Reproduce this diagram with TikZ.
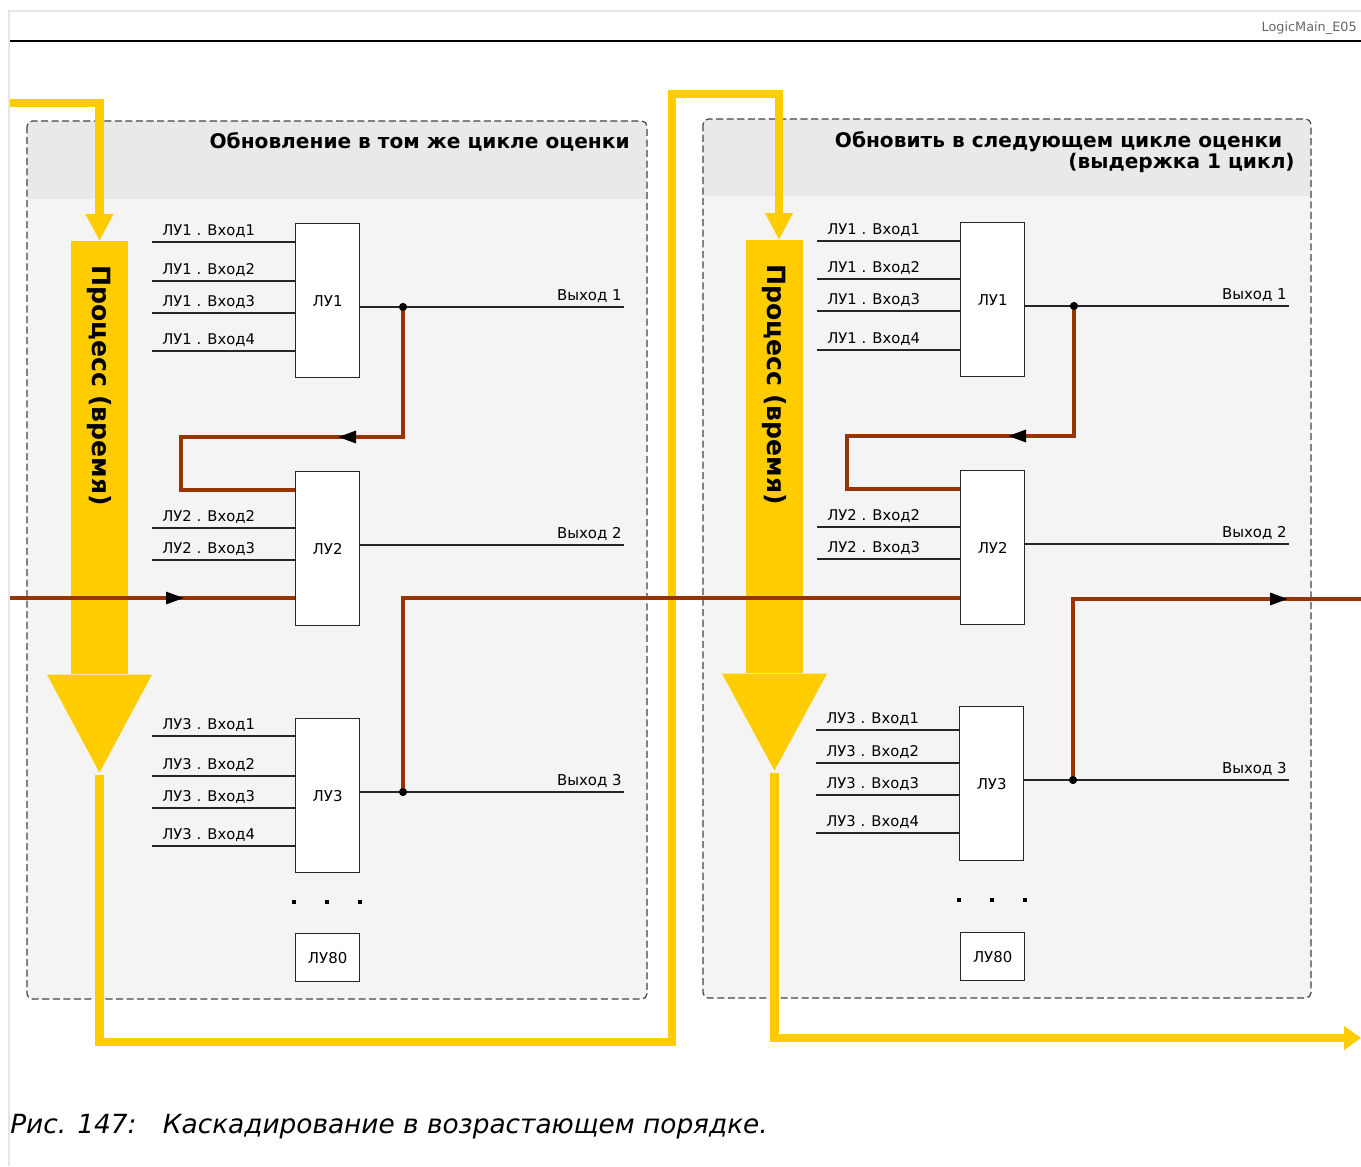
\documentclass[tikz,border=0pt]{standalone}
\usepackage{fontspec}
\setmainfont{DejaVu Sans}
\usetikzlibrary{arrows.meta,positioning,calc}
\definecolor{cFeed}{HTML}{993300}
\definecolor{cProc}{HTML}{FFCC00}
\definecolor{cHead}{HTML}{E9E9E9}
\definecolor{cBody}{HTML}{F4F4F4}
\definecolor{cFrame}{HTML}{E6E6E6}
\definecolor{cEdge}{HTML}{444444}
\tikzset{
  lu/.style={draw=black!85, fill=white, line width=0.75pt, anchor=north west,
             minimum width=1.28cm, minimum height=3.08cm, inner sep=0pt,
             font=\fontsize{8.5}{10}\selectfont},
  lulast/.style={lu, minimum height=0.96cm},
  panel/.style={draw=cEdge, dashed, dash pattern=on 4pt off 2pt, line width=0.7pt,
                rounded corners=3pt},
  ptitle/.style={anchor=base east, align=right, inner sep=0pt,
                 font=\fontsize{11.45}{12}\selectfont\bfseries},
  wire/.style={draw=black!85, line width=0.8pt},
  pin/.style={anchor=base west, inner sep=0pt, font=\fontsize{8.4}{10}\selectfont},
  outl/.style={anchor=base east, inner sep=0pt, font=\fontsize{8.5}{10}\selectfont},
  feed/.style={draw=cFeed, line width=1.8pt},
  feedtip/.style={-{Triangle[length=0.36cm, width=0.24cm, color=black]}},
  proc/.style={draw=cProc, line width=4.6pt},
  procbar/.style={fill=cProc, rotate=-90, anchor=west, text width=7.7cm,
                  inner xsep=0.48cm, minimum height=1.14cm, align=left,
                  font=\fontsize{14.3}{16}\selectfont\bfseries},
  joint/.style={circle, fill=black, inner sep=0pt, minimum size=4.5pt},
}

\begin{document}
\begin{tikzpicture}[x=0.02cm, y=-0.02cm]
  \useasboundingbox (0,0) rectangle (1361,1166);

  % page frame and header rule
  \draw[cFrame, line width=1pt] (1361,11) -- (9,11) -- (9,1166);
  \draw[line width=1.2pt] (10,41) -- (1361,41);
  \node[anchor=base east, inner sep=0pt, text=black!60,
        font=\fontsize{7.3}{8}\selectfont] (tag) at (1357,32) {LogicMain\_E05};

  % panels
  \begin{scope}
    \clip[rounded corners=3pt] (27,121) rectangle (647,999);
    \fill[cBody] (27,121) rectangle (647,999);
    \fill[cHead] (27,121) rectangle (647,199);
  \end{scope}
  \draw[panel] (27,121) rectangle (647,999);
  \node[ptitle] (tl) at (630,148) {Обновление в том же цикле оценки};

  \begin{scope}
    \clip[rounded corners=3pt] (703,119) rectangle (1311,998);
    \fill[cBody] (703,119) rectangle (1311,998);
    \fill[cHead] (703,119) rectangle (1311,196);
  \end{scope}
  \draw[panel] (703,119) rectangle (1311,998);
  \node[ptitle, anchor=north east] (tr) at (1295,131)
    {Обновить в следующем цикле оценки\kern7pt\\(выдержка 1 цикл)};

  % process arrows
  \node[procbar] (pl) at (99.5,241) {Процесс (время)};
  \coordinate (tipl) at ($(pl.east)+(0,98)$);
  \fill[cProc] ($(pl.east)+(-52.5,0)$) -- ($(pl.east)+(52.5,0)$) -- (tipl) -- cycle;
  \node[procbar] (pr) at (774.5,240) {Процесс (время)};
  \coordinate (tipr) at ($(pr.east)+(0,97)$);
  \fill[cProc] ($(pr.east)+(-52.5,0)$) -- ($(pr.east)+(52.5,0)$) -- (tipr) -- cycle;

  \coordinate (pin0) at (10,103);
  \coordinate (loopb) at (672,1042);
  \coordinate (loopt) at (672,94);
  \coordinate (pout) at (1361,1038);
  \draw[proc, -{Triangle[length=0.54cm, width=0.52cm]}]
    (pin0) -| (pl.west);
  \draw[proc, -{Triangle[length=0.54cm, width=0.52cm]}]
    ($(tipl)+(0,2)$) |- (loopb) -- (loopt) -| ($(pr.west)+(4.5,0)$);
  \draw[proc, -{Triangle[length=0.34cm, width=0.46cm]}]
    ($(tipr)+(0,2)$) |- (pout);

  % left panel: ЛУ1
  \node[lu] (a1) at (295,223) {ЛУ1};
  \foreach \dy/\t [count=\i] in {19/1,58/2,90/3,128/4} {
    \coordinate (a1i\i) at ($(a1.north west)+(-143,\dy)$);
    \draw[wire] (a1i\i) -- (a1i\i -| a1.west);
    \node[pin] at ($(a1i\i)+(10,-7)$) {ЛУ1 . Вход\t};
  }
  \coordinate (a1o) at (624,307);
  \draw[wire] (a1o -| a1.east) -- (a1o);
  \node[outl] (a1ol) at ($(a1o)+(-2,-7)$) {Выход 1};

  % left panel: ЛУ2
  \node[lu] (a2) at (295,471) {ЛУ2};
  \foreach \dy/\t [count=\i] in {57/2,89/3} {
    \coordinate (a2i\i) at ($(a2.north west)+(-143,\dy)$);
    \draw[wire] (a2i\i) -- (a2i\i -| a2.west);
    \node[pin] at ($(a2i\i)+(10,-7)$) {ЛУ2 . Вход\t};
  }
  \coordinate (a2o) at (624,545);
  \draw[wire] (a2o -| a2.east) -- (a2o);
  \node[outl] (a2ol) at ($(a2o)+(-2,-7)$) {Выход 2};

  % left panel: ЛУ3
  \node[lu] (a3) at (295,718) {ЛУ3};
  \foreach \dy/\t [count=\i] in {18/1,58/2,90/3,128/4} {
    \coordinate (a3i\i) at ($(a3.north west)+(-143,\dy)$);
    \draw[wire] (a3i\i) -- (a3i\i -| a3.west);
    \node[pin] at ($(a3i\i)+(10,-7)$) {ЛУ3 . Вход\t};
  }
  \coordinate (a3o) at (624,792);
  \draw[wire] (a3o -| a3.east) -- (a3o);
  \node[outl] (a3ol) at ($(a3o)+(-2,-7)$) {Выход 3};

  \foreach \x in {294,327,360} \fill (\x,902) +(-1.6,-1.6) rectangle +(1.6,1.6);
  \node[lulast] (a80) at (295,933) {ЛУ80};

  % right panel: ЛУ1
  \node[lu] (b1) at (960,222) {ЛУ1};
  \foreach \dy/\t [count=\i] in {19/1,57/2,89/3,128/4} {
    \coordinate (b1i\i) at ($(b1.north west)+(-143,\dy)$);
    \draw[wire] (b1i\i) -- (b1i\i -| b1.west);
    \node[pin] at ($(b1i\i)+(10,-7)$) {ЛУ1 . Вход\t};
  }
  \coordinate (b1o) at (1289,306);
  \draw[wire] (b1o -| b1.east) -- (b1o);
  \node[outl] (b1ol) at ($(b1o)+(-2,-7)$) {Выход 1};

  % right panel: ЛУ2
  \node[lu] (b2) at (960,470) {ЛУ2};
  \foreach \dy/\t [count=\i] in {57/2,89/3} {
    \coordinate (b2i\i) at ($(b2.north west)+(-143,\dy)$);
    \draw[wire] (b2i\i) -- (b2i\i -| b2.west);
    \node[pin] at ($(b2i\i)+(10,-7)$) {ЛУ2 . Вход\t};
  }
  \coordinate (b2o) at (1289,544);
  \draw[wire] (b2o -| b2.east) -- (b2o);
  \node[outl] (b2ol) at ($(b2o)+(-2,-7)$) {Выход 2};

  % right panel: ЛУ3
  \node[lu] (b3) at (959,706) {ЛУ3};
  \foreach \dy/\t [count=\i] in {24/1,57/2,89/3,127/4} {
    \coordinate (b3i\i) at ($(b3.north west)+(-143,\dy)$);
    \draw[wire] (b3i\i) -- (b3i\i -| b3.west);
    \node[pin] at ($(b3i\i)+(10,-7)$) {ЛУ3 . Вход\t};
  }
  \coordinate (b3o) at (1289,780);
  \draw[wire] (b3o -| b3.east) -- (b3o);
  \node[outl] (b3ol) at ($(b3o)+(-2,-7)$) {Выход 3};

  \foreach \x in {959,992,1025} \fill (\x,900) +(-1.6,-1.6) rectangle +(1.6,1.6);
  \node[lulast] (b80) at (960,932) {ЛУ80};

  % cascade wiring (full line first, arrow tip laid over it)
  \coordinate (ain) at (10,598);
  \coordinate (aarr) at (184,598);
  \draw[feed] (ain) -- (ain -| a2.west);
  \draw[feed, feedtip] (ain) -- (aarr);

  \node[joint] (ja1) at (403,307) {};
  \coordinate (fa1) at (338,437);
  \draw[feed] (ja1.center) |- (181,437) |- ($(a2.north west)+(0,19)$);
  \draw[feed, feedtip] (ja1.center) |- (fa1);

  \node[joint] (ja3) at (403,792) {};
  \draw[feed] (ja3.center) |- (b2.west |- ain);

  \node[joint] (jb1) at (1074,306) {};
  \coordinate (fb1) at (1008,436);
  \draw[feed] (jb1.center) |- (847,436) |- ($(b2.north west)+(0,19)$);
  \draw[feed, feedtip] (jb1.center) |- (fb1);

  \node[joint] (jb3) at (1073,780) {};
  \coordinate (barr) at (1288,599);
  \coordinate (bout) at (1361,599);
  \draw[feed] (jb3.center) |- (bout);
  \draw[feed, feedtip] (jb3.center) |- (barr);
  \node[joint] at (ja1) {};
  \node[joint] at (ja3) {};
  \node[joint] at (jb1) {};
  \node[joint] at (jb3) {};

  % caption
  \node[anchor=base west, inner sep=0pt, font=\fontsize{15}{17}\selectfont\itshape]
    (cap) at (10,1133) {Рис. 147:\hspace{1em}Каскадирование в возрастающем порядке.};
\end{tikzpicture}
\end{document}
